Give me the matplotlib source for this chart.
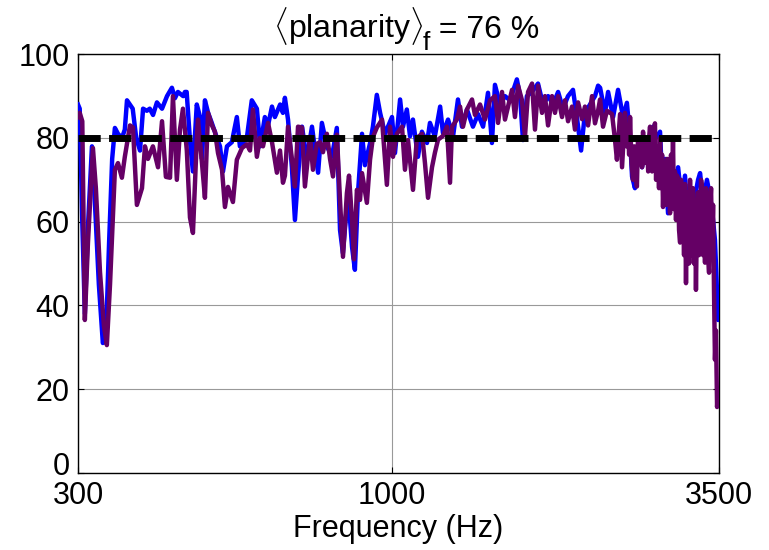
import numpy as np
import matplotlib
matplotlib.use("Agg")
import matplotlib.pyplot as plt
import matplotlib.transforms as mtransforms
from matplotlib.ticker import FixedLocator, FixedFormatter, NullLocator

# planarity (%) vs frequency (Hz)
freq_blue = [300, 302, 305, 308, 312, 316.5, 320, 325, 330, 334, 338, 342, 345.6, 349.7, 355, 359,
             362, 370, 375, 380.5, 385, 390.6, 395, 400, 406, 414, 422, 430, 435, 440, 449, 452,
             455, 461, 466, 473, 479, 482.5, 488, 494, 501, 511, 517, 523, 531, 541, 551.5, 558,
             573, 584, 595.5, 603, 614, 621.5, 631, 638, 651, 658, 663, 671, 681, 689, 697, 708,
             721, 735.5, 753, 764, 779, 794, 809, 819, 828, 844.5, 857.5, 867, 877.5, 891, 901,
             919, 929, 943, 955, 973, 984, 999.5, 1011, 1031, 1042.5, 1058, 1071, 1083, 1104,
             1121, 1143, 1156, 1178, 1202, 1215, 1239, 1263, 1287, 1307, 1332, 1363, 1390, 1417,
             1444, 1466, 1483, 1512, 1541, 1571, 1613, 1633, 1651, 1676, 1709, 1749, 1783, 1818,
             1853, 1889, 1925, 1962, 2000, 2030, 2063, 2094, 2135, 2176, 2202, 2219, 2261, 2288,
             2332, 2377, 2423, 2459, 2489, 2508, 2536, 2566, 2606, 2645, 2687, 2718, 2749, 2792,
             2814, 2845, 2879, 2923, 2957, 2992, 3038, 3072, 3109, 3144, 3192, 3230, 3255, 3292,
             3342, 3382, 3408, 3434, 3446, 3459, 3474, 3487, 3500]
planarity_blue = [88, 87, 60, 38, 60, 78, 65, 45, 31, 33, 55, 75, 82.4, 81, 80, 82,
                  89, 87, 80, 77, 87, 86.5, 87, 85.5, 88.5, 87, 90, 92, 89.5, 91, 90, 91,
                  91, 79, 72, 88, 85, 75, 89, 86, 83.6, 80, 78, 72, 78, 79, 85, 78,
                  80, 89, 87, 78, 85, 83, 87.5, 85, 88, 86, 89.6, 84.4, 73, 60.4, 70.7, 82.7,
                  74.8, 82.7, 71.7, 83.6, 78, 75.5, 82.4, 58, 52.5, 67, 54, 48.5, 67, 81, 73.5,
                  78.8, 82.7, 90.3, 86, 81, 82.7, 85, 76.4, 89.2, 82.7, 86.8, 80.4, 84.4, 75.5,
                  81.5, 78.8, 83.6, 80.4, 87.5, 81.2, 84.4, 80.4, 89.2, 82.7, 86.8, 82.7, 85.7, 82.7,
                  90.8, 78.8, 92.7, 88, 90, 89, 94, 90, 79.5, 90, 91, 93, 88, 90,
                  88, 91, 87, 90, 91.5, 85, 77, 86, 88, 90, 92.5, 92, 86, 91,
                  85, 91.5, 85, 88.4, 80, 70.8, 68, 78, 73, 80, 72.4, 82.7, 80, 81.5,
                  70, 75, 62, 72, 68, 73, 64, 71, 60, 68, 66, 70, 71.6, 65,
                  70, 66, 62.8, 58, 55.6, 50, 43, 36.5, 38]

freq_purple = [300, 302, 305, 308, 311.7, 317.7, 321.3, 326.4, 331.4, 335.1, 339.2, 343.1, 345.6,
               349.7, 355, 359, 366.2, 370.4, 376, 383.4, 387.8, 392.3, 399.8, 407.7, 414, 420.2,
               426.9, 431.7, 438.2, 443.5, 448.6, 455.3, 460.8, 466.1, 473.1, 475.2, 482.5, 488,
               493.8, 501.4, 507.1, 513.1, 521, 526.9, 533.1, 543.3, 551.5, 562.5, 573.1, 580,
               586.6, 595.5, 602.7, 609.6, 621.5, 631, 643, 650.7, 658.1, 663.1, 671, 681.3, 689,
               697.2, 707.9, 715.9, 730, 738.3, 749.4, 758.5, 767.2, 778.7, 788.2, 797.2, 809.2,
               818.9, 828.3, 840.8, 847.7, 857.5, 864, 873.7, 884.2, 891, 907.8, 918.8, 929.3,
               943.3, 962, 980.1, 992, 1003.3, 1018.4, 1038.6, 1050.4, 1062.8, 1083.2, 1099.5,
               1121.4, 1134.1, 1147.5, 1165.1, 1178.3, 1192.4, 1215.3, 1233.6, 1248.4, 1257.9,
               1281.7, 1297.3, 1312.1, 1331.9, 1358.2, 1373.6, 1400.6, 1427.3, 1455.3, 1483,
               1500.7, 1523.7, 1541, 1559.3, 1583.3, 1601.2, 1620.2, 1645.1, 1663.8, 1683.5,
               1709.4, 1728.8, 1749.3, 1776.2, 1796.3, 1817.7, 1845.6, 1866.6, 1888.7, 1917.7,
               1939.5, 1962.5, 1992.6, 2015.3, 2039.2, 2070.5, 2094, 2118.9, 2151.4, 2175.9,
               2201.7, 2218.6, 2244, 2277.8, 2322.8, 2349.2, 2366.7, 2395.4, 2413.6, 2441,
               2455, 2470, 2480, 2489, 2503, 2517, 2530, 2541, 2555, 2566, 2580, 2593, 2606,
               2616, 2630, 2642, 2655, 2668, 2677, 2687, 2698, 2708, 2720, 2738, 2750, 2760,
               2771, 2781, 2792, 2805, 2814, 2824, 2835, 2845, 2857, 2868, 2879, 2890, 2901,
               2912, 2923, 2934, 2945, 2956, 2968, 2980, 2992, 3003, 3015, 3026, 3038, 3049,
               3061, 3072, 3084, 3096, 3109, 3120, 3132, 3144, 3156, 3168, 3180, 3192, 3204,
               3217, 3230, 3242, 3255, 3267, 3280, 3292, 3305, 3317, 3329, 3342, 3356, 3369,
               3382, 3395, 3408, 3421, 3434, 3446, 3459, 3474, 3487, 3500]
planarity_purple = [85, 86, 84, 36.5, 55, 77.6, 68, 48, 35, 30.5, 45, 62, 72.4,
                    74, 70.5, 75.5, 83, 82.5, 64, 68, 78, 75, 78, 73, 84, 70.7,
                    70.5, 90, 70, 82, 87, 77, 61, 57.3, 80, 84.4, 74, 65.7,
                    86, 83, 81.5, 76.4, 72.4, 63.5, 68.3, 64.7, 74.8, 77.6, 78.5, 77,
                    86.8, 75.5, 80, 78, 83.6, 79, 71.7, 77, 69.3, 71, 82.7, 74.8, 68.4,
                    82.7, 82.5, 68.4, 80.3, 72.4, 78.6, 79, 76.6, 81, 75, 70.8, 80.8,
                    65.2, 51.6, 66.8, 71, 60.4, 51, 67.6, 65.2, 71.6, 64.5, 74.8, 80.3,
                    82.5, 84.4, 68.8, 82.7, 75.5, 81, 82.7, 72.4, 79.5, 67.6, 80,
                    81, 74, 65.7, 73, 76.5, 79.6, 80.5, 82.7, 69.3, 82.7,
                    84.4, 87.5, 82.7, 86.8, 89.2, 85.5, 88, 84.4, 89, 90,
                    83.6, 91, 84.4, 87.5, 91.5, 85, 92.5, 89, 80.3, 91,
                    93, 82, 92.5, 86, 90, 83, 90, 86, 90, 85,
                    89, 84, 87.5, 82, 88.5, 84.5, 87.5, 83, 90, 83.5,
                    86.5, 89.2, 82.7, 86.5, 85.7, 79.6, 74.8, 85.7, 73, 86,
                    78, 82, 76, 85, 74, 70, 78, 72, 68.4, 80, 74, 79, 73,
                    81.5, 74, 80, 79.5, 72, 80, 82.7, 76, 72, 80, 83.5, 70, 78,
                    75, 68, 80, 68, 76, 63.5, 74, 72, 64, 75, 66, 73, 62,
                    76, 65, 80, 63, 72, 60.4, 71, 70, 58, 55, 70, 57, 65,
                    52, 69, 45.3, 66, 67, 50, 70, 55, 52, 68, 50, 65, 43.7,
                    62, 67, 52, 57, 70, 68, 52, 66, 50.2, 68, 65, 52, 47.8,
                    63, 68, 54, 64, 43, 27, 34, 15.7, 20, 18]

threshold = 80
mean_planarity = 76
xtick_vals = [300, 1000, 3500]
ytick_vals = [0, 20, 40, 60, 80, 100]

plt.rcParams['font.family'] = ['Liberation Sans', 'DejaVu Sans']
plt.rcParams['mathtext.fontset'] = 'custom'
plt.rcParams['mathtext.rm'] = 'Liberation Sans'
plt.rcParams['mathtext.it'] = 'Liberation Sans:italic'

W, H = 769, 550
fig = plt.figure(figsize=(W / 100, H / 100), dpi=100)
ax = fig.add_axes([0.1014, 0.1405, 0.8336, 0.7608])

ax.plot(freq_blue, planarity_blue, color='#0000ff', lw=3.2, zorder=3)
ax.plot(freq_purple, planarity_purple, color='#650065', lw=3.2, zorder=4)
ax.axhline(threshold, color='black', lw=5, dashes=(3.2, 1.2), zorder=5)

ax.set_xscale('log')
ax.set_xlim(300, 3500)
ax.set_ylim(0, 100)
ax.xaxis.set_major_locator(FixedLocator(xtick_vals))
ax.xaxis.set_major_formatter(FixedFormatter([str(v) for v in xtick_vals]))
ax.xaxis.set_minor_locator(NullLocator())
ax.set_yticks(ytick_vals)

ax.grid(True, which='major', color='0.6', lw=0.8)
ax.set_axisbelow(True)
ax.tick_params(direction='in', length=4, width=0.8, top=True, right=True,
               labelsize=22)
ax.tick_params(axis='x', pad=6)
ax.tick_params(axis='y', pad=6)
for s in ax.spines.values():
    s.set_linewidth(1.0)

# lift the "0" label a little so it clears the "300" below it
lift = mtransforms.ScaledTranslation(0, 9 / 100, fig.dpi_scale_trans)
zero_label = ax.get_yticklabels()[0]
zero_label.set_transform(zero_label.get_transform() + lift)

ax.set_xlabel('Frequency (Hz)', fontsize=22, labelpad=2)

# title built from pieces so the subscript f can sit low like the original
renderer = fig.canvas.get_renderer()
base_y = 1 - 38 / H
t1 = fig.text(0, base_y, r'$\langle$planarity$\rangle$', fontsize=23, va='baseline')
t2 = fig.text(0, base_y - 12 / H, 'f', fontsize=19, va='baseline')
t3 = fig.text(0, base_y, ' = %d %%' % mean_planarity, fontsize=23, va='baseline')
widths = [t.get_window_extent(renderer).width for t in (t1, t2, t3)]
x0 = 406 - sum(widths) / 2
for t, w in zip((t1, t2, t3), widths):
    t.set_x(x0 / W)
    x0 += w

fig.savefig('out.png', dpi=100)
